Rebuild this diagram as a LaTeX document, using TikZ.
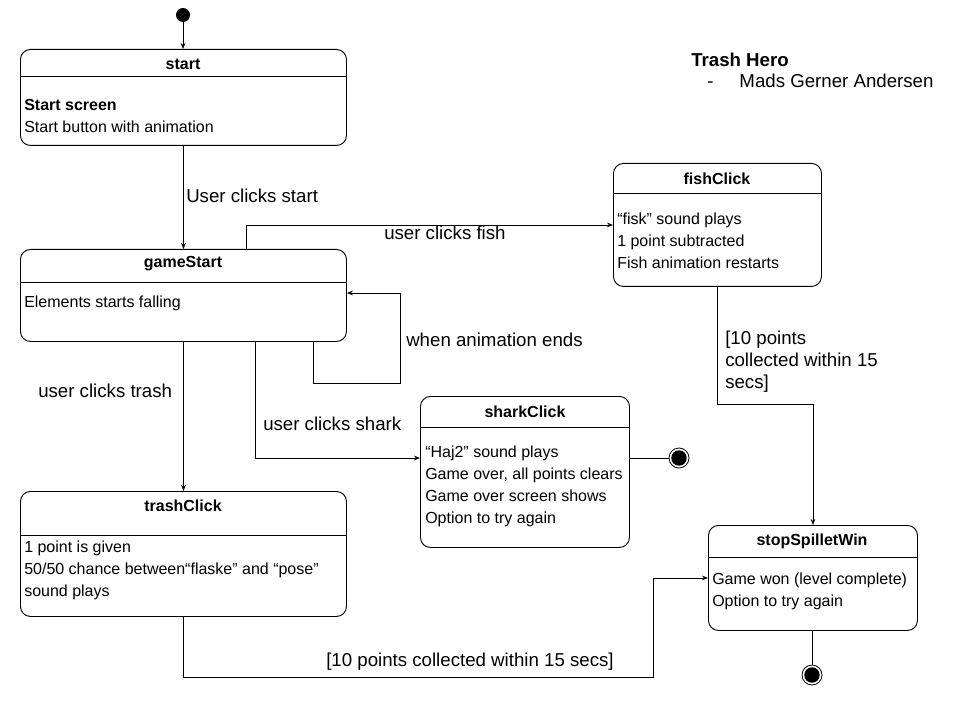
\documentclass[tikz,border=0pt]{standalone}
\usepackage{fontspec}
\setmainfont{Liberation Sans}
\usetikzlibrary{arrows.meta}

\tikzset{
    state/.style={draw, line width=0.7pt, rounded corners=7.5pt, anchor=north west, inner sep=0pt},
    title/.style={font=\fontsize{12}{14}\selectfont\bfseries},
    body/.style={font=\fontsize{12}{16.5}\selectfont, align=left, anchor=west, inner sep=0pt},
    lbl/.style={font=\fontsize{14}{17}\selectfont, align=left, anchor=west, inner sep=0pt},
    trans/.style={line width=0.6pt, -{Stealth[length=4.5pt,width=3.5pt]}},
    initial/.style={circle, fill=black, minimum size=10.5pt, inner sep=0pt},
    final/.style={circle, draw, line width=0.6pt, minimum size=15pt, inner sep=0pt,
        path picture={\fill (path picture bounding box.center) circle (5.8pt);}}
}

\begin{document}
\begin{tikzpicture}[x=0.75pt, y=-0.75pt]
    \useasboundingbox (0,0) rectangle (960,720);

    % Title
    \node[font=\fontsize{14}{17}\selectfont\bfseries, anchor=west, inner sep=0pt] (hero) at (691,60) {Trash Hero};
    \node[lbl] (author) at (707,81) {-\hspace{19.5pt}Mads Gerner Andersen};

    % States
    \node[state, minimum width=244.5pt, minimum height=72pt] (start) at (20,49) {};
    \node[state, minimum width=244.5pt, minimum height=69pt] (gameStart) at (20,249) {};
    \node[state, minimum width=156pt, minimum height=92.25pt] (fishClick) at (613,163) {};
    \node[state, minimum width=156.75pt, minimum height=113.25pt] (sharkClick) at (420,396) {};
    \node[state, minimum width=244.5pt, minimum height=93.75pt] (trashClick) at (20,491) {};
    \node[state, minimum width=156.75pt, minimum height=78.75pt] (stopSpilletWin) at (708,525) {};

    % Compartment lines
    \draw[line width=0.7pt] (start.west |- 0,76) -- (start.east |- 0,76);
    \draw[line width=0.7pt] (gameStart.west |- 0,282) -- (gameStart.east |- 0,282);
    \draw[line width=0.7pt] (fishClick.west |- 0,193) -- (fishClick.east |- 0,193);
    \draw[line width=0.7pt] (sharkClick.west |- 0,427) -- (sharkClick.east |- 0,427);
    \draw[line width=0.7pt] (trashClick.west |- 0,535) -- (trashClick.east |- 0,535);
    \draw[line width=0.7pt] (stopSpilletWin.west |- 0,557) -- (stopSpilletWin.east |- 0,557);

    % State names
    \node[title] (startName) at (183,64) {start};
    \node[title] (gameStartName) at (183,264) {gameStart};
    \node[title] (fishClickName) at (717,179) {fishClick};
    \node[title] (sharkClickName) at (525,412) {sharkClick};
    \node[title] (trashClickName) at (183,506) {trashClick};
    \node[title] (stopSpilletWinName) at (812,541) {stopSpilletWin};

    % State contents
    \node[body] (startText) at (24,116) {\textbf{Start screen}\\Start button with animation};
    \node[body] (gameStartText) at (24,303) {Elements starts falling};
    \node[body] (fishClickText) at (617,241) {“fisk” sound plays\\1 point subtracted\\Fish animation restarts};
    \node[body] (sharkClickText) at (425,486) {“Haj2” sound plays\\Game over, all points clears\\Game over screen shows\\Option to try again};
    \node[body] (trashClickText) at (24,570) {1 point is given\\50/50 chance between“flaske” and “pose”\\sound plays};
    \node[body] (stopSpilletWinText) at (712,591) {Game won (level complete)\\Option to try again};

    % Initial and final states
    \node[initial] (init) at (183,15) {};
    \node[final] (endShark) at (679,458) {};
    \node[final] (endWin) at (812,675) {};

    % Transitions
    \draw[trans] (init) -- (start.north -| init);
    \draw[trans] (start.south) -- (gameStart.north);
    \draw[trans] (gameStart.north -| 246,0) |- (fishClick.west);
    \draw[trans] (gameStart.south -| 313,0) |- (400,383) |- (gameStart.east |- 0,293);
    \draw[trans] (gameStart.south) -- (trashClick.north);
    \draw[trans] (gameStart.south -| 255,0) |- (sharkClick.west |- 0,458);
    \draw[line width=0.6pt] (sharkClick.east |- endShark) -- (endShark);
    \draw[trans] (fishClick.south) |- (stopSpilletWin.north |- 0,404) -- (stopSpilletWin.north);
    \draw[trans] (trashClick.south) |- (653,677) |- (stopSpilletWin.west);
    \draw[line width=0.6pt] (stopSpilletWin.south -| endWin) -- (endWin);

    % Labels
    \node[lbl] (lStart) at (186,196) {User clicks start};
    \node[lbl] (lFish) at (384,233) {user clicks fish};
    \node[lbl] (lLoop) at (406,340) {when animation ends};
    \node[lbl] (lTrash) at (38,391) {user clicks trash};
    \node[lbl] (lShark) at (263,424) {user clicks shark};
    \node[lbl, font=\fontsize{14}{16.5}\selectfont] (lWinFish) at (725,362) {{[10 points}\\collected within 15\\secs]};
    \node[lbl] (lWinTrash) at (326,662) {{[10 points collected within 15 secs]}};
\end{tikzpicture}
\end{document}
